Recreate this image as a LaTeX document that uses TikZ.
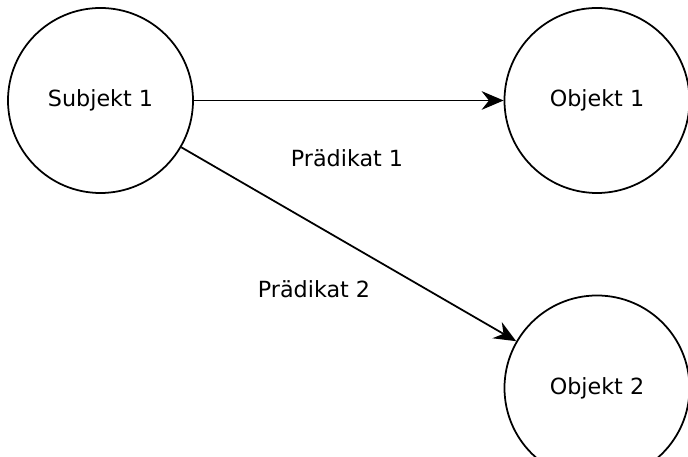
\documentclass[tikz,border=0pt]{standalone}
\usepackage{fontspec}
\setmainfont{DejaVu Sans}
\usetikzlibrary{arrows.meta}
\tikzset{
  entity/.style={draw, circle, line width=1.5pt, minimum size=5.55cm, inner sep=0pt,
    font=\fontsize{19}{23}\selectfont},
  rel/.style={-{Stealth[length=6.6mm, width=5.6mm, inset=2.2mm]}, line width=1.5pt},
  predlabel/.style={font=\fontsize{19}{23}\selectfont}
}
\begin{document}
\begin{tikzpicture}[x=0.03cm,y=0.03cm]
  \clip (0,0) rectangle (688,457);
  \useasboundingbox (0,0) rectangle (688,457);
  % subject and objects
  \node[entity] (subj) at (100.5,356.5) {Subjekt 1};
  \node[entity] (obj1) at (597,356.5) {Objekt 1};
  \node[entity] (obj2) at (597,69) {Objekt 2};
  % predicates
  \draw[rel] (subj) -- (obj1);
  \draw[rel] (subj) -- (obj2);
  \node[predlabel] (p1) at (347,299) {Prädikat 1};
  \node[predlabel] (p2) at (314,168) {Prädikat 2};
\end{tikzpicture}
\end{document}
